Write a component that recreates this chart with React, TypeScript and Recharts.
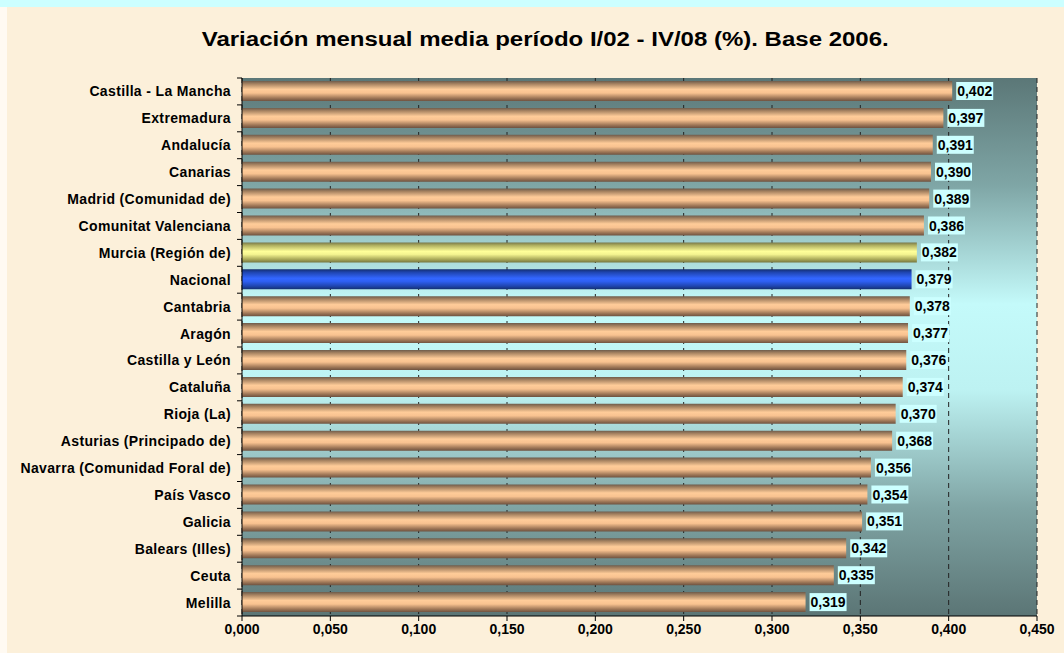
import React from "react";
import {
  BarChart,
  Bar,
  XAxis,
  YAxis,
  CartesianGrid,
  Cell,
  LabelList,
} from "recharts";

const categories = [
  "Castilla - La Mancha",
  "Extremadura",
  "Andalucía",
  "Canarias",
  "Madrid (Comunidad de)",
  "Comunitat Valenciana",
  "Murcia (Región de)",
  "Nacional",
  "Cantabria",
  "Aragón",
  "Castilla y León",
  "Cataluña",
  "Rioja (La)",
  "Asturias (Principado de)",
  "Navarra (Comunidad Foral de)",
  "País Vasco",
  "Galicia",
  "Balears (Illes)",
  "Ceuta",
  "Melilla",
];

const values = [
  0.402, 0.397, 0.391, 0.39, 0.389, 0.386, 0.382, 0.379, 0.378, 0.377, 0.376,
  0.374, 0.37, 0.368, 0.356, 0.354, 0.351, 0.342, 0.335, 0.319,
];

const xTicks = [0, 0.05, 0.1, 0.15, 0.2, 0.25, 0.3, 0.35, 0.4, 0.45];

const highlight: Record<string, string> = {
  "Murcia (Región de)": "yellow",
  Nacional: "blue",
};

const title = "Variación mensual media período I/02 - IV/08 (%). Base 2006.";

const data = categories.map((name, i) => ({ name, value: values[i] }));

const FONT = "'Liberation Sans', Arial, sans-serif";
const W = 1064;
const H = 653;
const M = { top: 78, right: 27, bottom: 7, left: 0 };
const X_AXIS_H = 30;
const PLOT_H = H - M.top - M.bottom - X_AXIS_H;
const BAND = PLOT_H / categories.length;

const fmt = (v: number) => v.toFixed(3).replace(".", ",");

const ValueLabel = (props: any) => {
  const { x, y, width, height, value } = props;
  const bx = x + width + 4;
  const cy = y + height / 2;
  return (
    <g>
      <rect x={bx} y={cy - 9} width={37} height={18} fill="#ccffff" />
      <text
        x={bx + 1}
        y={cy}
        dy="0.36em"
        fontFamily={FONT}
        fontWeight="bold"
        fontSize={14}
        fill="#000"
      >
        {fmt(value)}
      </text>
    </g>
  );
};

const YTick = (props: any) => {
  const { x, y, payload, index } = props;
  const ax = x + 11;
  return (
    <g>
      <line x1={ax - 5} x2={ax} y1={y - BAND / 2} y2={y - BAND / 2} stroke="#000" />
      {index === categories.length - 1 && (
        <line x1={ax - 5} x2={ax} y1={y + BAND / 2} y2={y + BAND / 2} stroke="#000" />
      )}
      <text
        x={x}
        y={y}
        dy="0.36em"
        textAnchor="end"
        fontFamily={FONT}
        fontWeight="bold"
        fontSize={14}
        letterSpacing={0.35}
        fill="#000"
      >
        {payload.value}
      </text>
    </g>
  );
};

export default function App() {
  return (
    <div
      style={{
        position: "fixed",
        left: 0,
        top: 0,
        width: W,
        height: H,
        background: "#fcf0da",
        overflow: "hidden",
      }}
    >
      <div
        style={{
          position: "absolute",
          left: 0,
          top: 0,
          width: W,
          height: 7,
          background: "#ccffff",
        }}
      />
      <div
        style={{
          position: "absolute",
          left: 0,
          top: 7,
          width: 7,
          height: H - 7,
          background: "#fffaf2",
        }}
      />
      <div
        style={{
          position: "absolute",
          left: 0,
          width: 1090,
          top: 28,
          textAlign: "center",
        }}
      >
        <span
          style={{
            display: "inline-block",
            fontFamily: FONT,
            fontWeight: "bold",
            fontSize: 20,
            color: "#000",
            transform: "scaleX(1.2)",
            transformOrigin: "center",
            whiteSpace: "nowrap",
          }}
        >
          {title}
        </span>
      </div>
      <div style={{ position: "absolute", left: 0, top: 0 }}>
        <BarChart
          width={W}
          height={H}
          data={data}
          layout="vertical"
          margin={M}
          barSize={20}
        >
          <defs>
            <linearGradient id="bgGrad" x1="0" y1="0" x2="0" y2="1">
              <stop offset="0%" stopColor="#5b7777" />
              <stop offset="20%" stopColor="#7fa6a6" />
              <stop offset="42%" stopColor="#c4fafa" />
              <stop offset="58%" stopColor="#bdf2f2" />
              <stop offset="80%" stopColor="#7fa4a4" />
              <stop offset="100%" stopColor="#5b7575" />
            </linearGradient>
            <linearGradient id="brownGrad" x1="0" y1="0" x2="0" y2="1">
              <stop offset="0%" stopColor="#6e5c4c" />
              <stop offset="15%" stopColor="#a88462" />
              <stop offset="42%" stopColor="#ffcc99" />
              <stop offset="60%" stopColor="#f8c290" />
              <stop offset="85%" stopColor="#a07858" />
              <stop offset="100%" stopColor="#6e5240" />
            </linearGradient>
            <linearGradient id="yellowGrad" x1="0" y1="0" x2="0" y2="1">
              <stop offset="0%" stopColor="#76764a" />
              <stop offset="15%" stopColor="#b0b060" />
              <stop offset="45%" stopColor="#ffff99" />
              <stop offset="60%" stopColor="#f4f490" />
              <stop offset="85%" stopColor="#a8a858" />
              <stop offset="100%" stopColor="#767640" />
            </linearGradient>
            <linearGradient id="blueGrad" x1="0" y1="0" x2="0" y2="1">
              <stop offset="0%" stopColor="#142f70" />
              <stop offset="15%" stopColor="#1f45b0" />
              <stop offset="45%" stopColor="#3366ff" />
              <stop offset="60%" stopColor="#2f60f4" />
              <stop offset="85%" stopColor="#1e44ac" />
              <stop offset="100%" stopColor="#142f70" />
            </linearGradient>
          </defs>
          <CartesianGrid
            horizontal={false}
            vertical
            fill="url(#bgGrad)"
            fillOpacity={1}
            stroke="#222"
            strokeDasharray="5 4"
          />
          <XAxis
            type="number"
            domain={[0, 0.45]}
            ticks={xTicks}
            tickFormatter={fmt}
            interval={0}
            height={X_AXIS_H}
            axisLine={{ stroke: "#000" }}
            tickLine={{ stroke: "#000" }}
            tickSize={5}
            tickMargin={3}
            tick={{
              fontFamily: FONT,
              fontWeight: "bold",
              fontSize: 14,
              fill: "#000",
            }}
          />
          <XAxis
            xAxisId="top"
            orientation="top"
            type="number"
            domain={[0, 0.45]}
            height={0}
            tick={false}
            tickLine={false}
            axisLine={{ stroke: "#8a8a8a", strokeWidth: 2 }}
          />
          <YAxis
            type="category"
            dataKey="name"
            width={242}
            interval={0}
            tickLine={false}
            axisLine={{ stroke: "#000" }}
            tick={<YTick />}
            tickSize={5}
            tickMargin={6}
          />
          <YAxis
            yAxisId="right"
            orientation="right"
            type="category"
            dataKey="name"
            width={0}
            tick={false}
            tickLine={false}
            axisLine={{ stroke: "#8a8a8a", strokeWidth: 2 }}
          />
          <Bar dataKey="value" isAnimationActive={false}>
            {data.map((d) => (
              <Cell
                key={d.name}
                fill={
                  highlight[d.name] === "yellow"
                    ? "url(#yellowGrad)"
                    : highlight[d.name] === "blue"
                    ? "url(#blueGrad)"
                    : "url(#brownGrad)"
                }
              />
            ))}
            <LabelList dataKey="value" content={<ValueLabel />} />
          </Bar>
        </BarChart>
      </div>
    </div>
  );
}
